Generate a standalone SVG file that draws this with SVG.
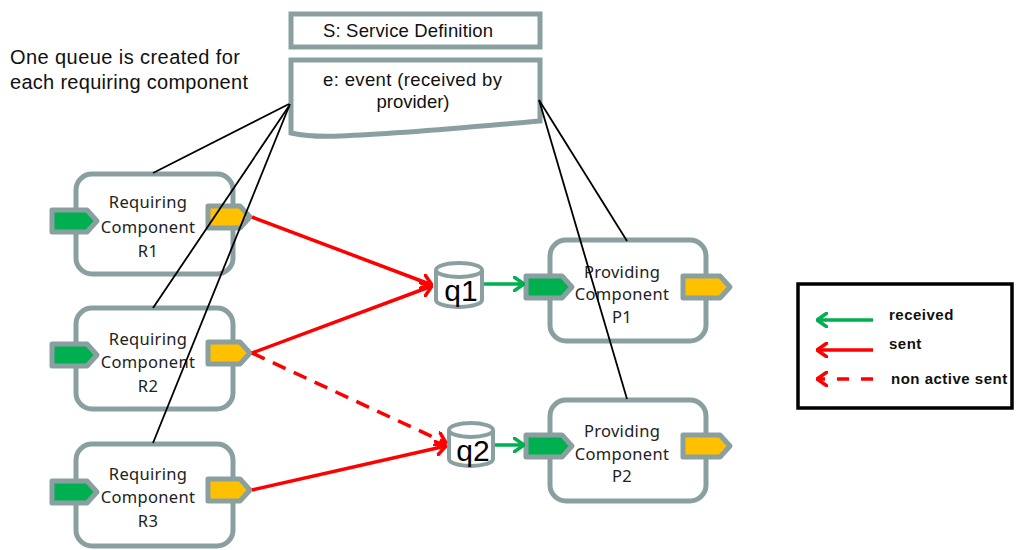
<svg xmlns="http://www.w3.org/2000/svg" width="1016" height="550" viewBox="0 0 1016 550">
<style>
.box{fill:#fff;stroke:#8aa0a0;stroke-width:5}
.pg{fill:#00b050;stroke:#8aa0a0;stroke-width:5;stroke-linejoin:round}
.py{fill:#ffc000;stroke:#8aa0a0;stroke-width:5;stroke-linejoin:round}
.cyl{fill:#fff;stroke:#8aa0a0;stroke-width:4}
.ct{font-family:"Noto Sans","Open Sans",sans-serif;font-size:16.5px;fill:#222;text-anchor:middle;letter-spacing:0.3px}
.at{font-family:"Liberation Sans",Arial,sans-serif;fill:#111}
.qt{font-family:"Liberation Sans",Arial,sans-serif;font-size:30px;fill:#000;text-anchor:middle}
.lt{font-family:"Liberation Sans",Arial,sans-serif;font-size:15px;font-weight:bold;fill:#111;letter-spacing:0.5px}
.red{stroke:#ff0000;stroke-width:3.5;fill:none;marker-end:url(#ar)}
.grn{stroke:#00b050;stroke-width:3.5;fill:none;marker-end:url(#ag)}
.blk{stroke:#000;stroke-width:1.8;fill:none}
</style>
<defs>
<marker id="ar" viewBox="0 0 12 16" refX="11" refY="8" markerWidth="12" markerHeight="16" markerUnits="userSpaceOnUse" orient="auto">
<path d="M1,1 L11,8 L1,15" fill="none" stroke="#ff0000" stroke-width="3.5" stroke-linecap="round" stroke-linejoin="round"/>
</marker>
<marker id="ag" viewBox="0 0 12 16" refX="11" refY="8" markerWidth="12" markerHeight="16" markerUnits="userSpaceOnUse" orient="auto">
<path d="M1,1 L11,8 L1,15" fill="none" stroke="#00b050" stroke-width="3.5" stroke-linecap="round" stroke-linejoin="round"/>
</marker>
</defs>
<rect width="1016" height="550" fill="#fff"/>

<g id="note">
<text class="at" font-size="20" x="10" y="64" textLength="230" lengthAdjust="spacing">One queue is created for</text>
<text class="at" font-size="20" x="10" y="89" textLength="238" lengthAdjust="spacing">each requiring component</text>
</g>

<g id="service">
<rect class="box" x="291" y="14" width="249" height="33"/>
<text class="at" font-size="18.5" x="323" y="37" textLength="170" lengthAdjust="spacing">S: Service Definition</text>
</g>

<g id="event">
<path class="box" d="M291,60 H540 V121 C460,128 400,134 340,136 C320,137 305,136 291,133 Z"/>
<text class="at" font-size="18.5" x="323" y="86" textLength="179" lengthAdjust="spacing">e: event (received by</text>
<text class="at" font-size="18.5" x="413" y="108" text-anchor="middle">provider)</text>
</g>

<g id="R1">
<rect class="box" x="76" y="174" width="157" height="100" rx="16"/>
<path class="pg" d="M52,210 H87 L97,221 L87,232 H52 Z"/>
<path class="py" d="M208,206 H240 L250,217 L240,228 H208 Z"/>
<text class="ct" x="148" y="208">Requiring</text>
<text class="ct" x="148" y="233">Component</text>
<text class="ct" x="148" y="257">R1</text>
</g>

<g id="R2">
<rect class="box" x="76" y="308" width="157" height="101" rx="16"/>
<path class="pg" d="M52,344 H87 L97,355 L87,366 H52 Z"/>
<path class="py" d="M208,342 H240 L250,353 L240,364 H208 Z"/>
<text class="ct" x="148" y="345">Requiring</text>
<text class="ct" x="148" y="368">Component</text>
<text class="ct" x="148" y="392">R2</text>
</g>

<g id="R3">
<rect class="box" x="76" y="444" width="157" height="102" rx="16"/>
<path class="pg" d="M52,481 H87 L97,492 L87,503 H52 Z"/>
<path class="py" d="M208,479 H240 L250,490 L240,501 H208 Z"/>
<text class="ct" x="148" y="480">Requiring</text>
<text class="ct" x="148" y="503">Component</text>
<text class="ct" x="148" y="527">R3</text>
</g>

<g id="P1">
<rect class="box" x="550" y="240" width="156" height="101" rx="16"/>
<path class="pg" d="M526,276 H562 L572,287 L562,298 H526 Z"/>
<path class="py" d="M683,276 H720 L730,287 L720,298 H683 Z"/>
<text class="ct" x="622" y="278">Providing</text>
<text class="ct" x="622" y="300">Component</text>
<text class="ct" x="622" y="323">P1</text>
</g>

<g id="P2">
<rect class="box" x="550" y="400" width="156" height="101" rx="16"/>
<path class="pg" d="M526,435 H562 L572,446 L562,457 H526 Z"/>
<path class="py" d="M683,435 H720 L730,446 L720,457 H683 Z"/>
<text class="ct" x="622" y="437">Providing</text>
<text class="ct" x="622" y="460">Component</text>
<text class="ct" x="622" y="482">P2</text>
</g>

<g id="q1">
<path class="cyl" d="M436,270 A23,7 0 0 1 482,270 V300 A23,7 0 0 1 436,300 Z"/>
<path class="cyl" d="M436,270 A23,7 0 0 0 482,270"/>
<text class="qt" x="461" y="301">q1</text>
</g>

<g id="q2">
<path class="cyl" d="M449,430 A22,7 0 0 1 493,430 V459 A22,7 0 0 1 449,459 Z"/>
<path class="cyl" d="M449,430 A22,7 0 0 0 493,430"/>
<text class="qt" x="473" y="461">q2</text>
</g>

<g id="legend">
<rect x="798" y="284" width="214" height="124" fill="#fff" stroke="#000" stroke-width="3.5"/>
<line x1="873" y1="320" x2="817" y2="320" class="grn"/>
<line x1="873" y1="350" x2="817" y2="350" class="red"/>
<line x1="873" y1="379" x2="817" y2="379" class="red" stroke-dasharray="12,12"/>
<text class="lt" x="889" y="320">received</text>
<text class="lt" x="889" y="349">sent</text>
<text class="lt" x="891" y="384">non active sent</text>
</g>

<g id="connectors">
<line class="red" x1="252" y1="217" x2="432" y2="285"/>
<line class="red" x1="252" y1="353" x2="432" y2="286"/>
<line class="red" x1="252" y1="353" x2="446" y2="443" stroke-dasharray="14,9"/>
<line class="red" x1="252" y1="490" x2="446" y2="446"/>
<line class="grn" x1="484" y1="284" x2="524" y2="284"/>
<line class="grn" x1="495" y1="445" x2="524" y2="445"/>
<line class="blk" x1="289" y1="104" x2="153" y2="173"/>
<line class="blk" x1="289" y1="106" x2="153" y2="308"/>
<line class="blk" x1="290" y1="104" x2="153" y2="443"/>
<line class="blk" x1="539" y1="100" x2="627" y2="241"/>
<line class="blk" x1="539" y1="100" x2="627" y2="399"/>
</g>
</svg>
